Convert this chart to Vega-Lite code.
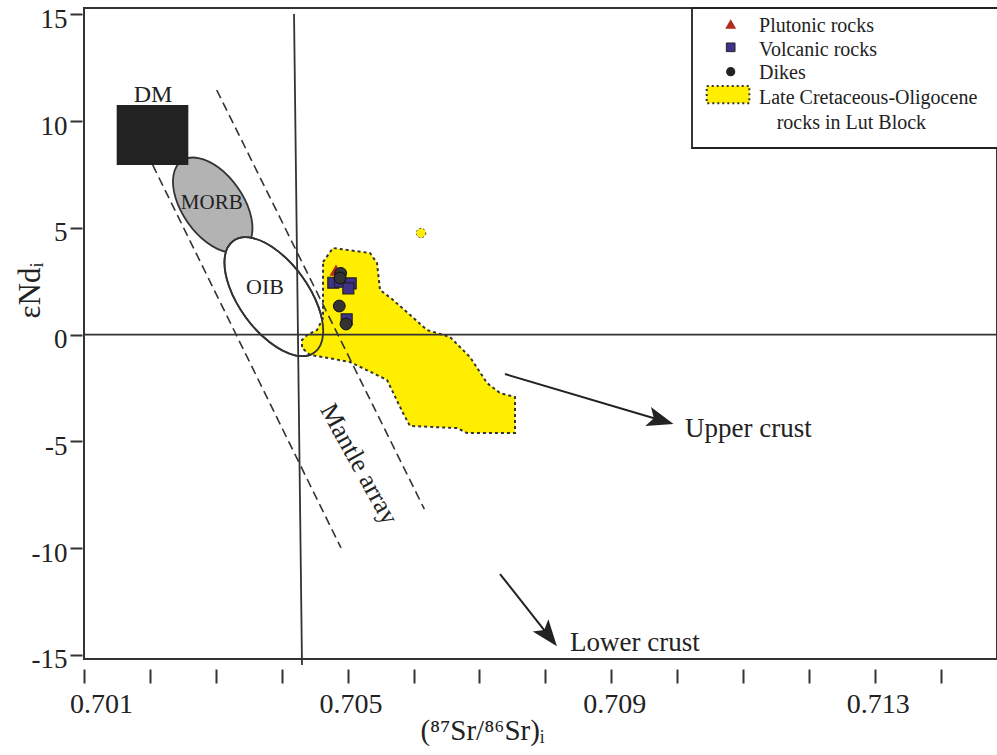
{
  "$schema": "https://vega.github.io/schema/vega-lite/v6.json",
  "width": 913,
  "height": 651,
  "autosize": {"type": "none"},
  "padding": {"left": 84, "top": 8, "right": 0, "bottom": 96},
  "background": "white",
  "config": {
    "view": {"stroke": "#333333", "strokeWidth": 2},
    "font": "Liberation Serif, Times New Roman, serif",
    "text": {"font": "Liberation Serif, Times New Roman, serif", "color": "#222222"}
  },
  "datasets": {
    "lut": [
      {"i": 1, "x": 0.704627, "y": 3.403}, {"i": 2, "x": 0.704778, "y": 4.059}, {"i": 3, "x": 0.70534, "y": 3.825},
      {"i": 4, "x": 0.705446, "y": 3.356}, {"i": 5, "x": 0.705492, "y": 2.092}, {"i": 6, "x": 0.705674, "y": 1.67},
      {"i": 7, "x": 0.706205, "y": 0.218}, {"i": 8, "x": 0.706554, "y": -0.11}, {"i": 9, "x": 0.706857, "y": -1.047},
      {"i": 10, "x": 0.707115, "y": -2.264}, {"i": 11, "x": 0.707313, "y": -2.733}, {"i": 12, "x": 0.70754, "y": -2.92},
      {"i": 13, "x": 0.70754, "y": -4.606}, {"i": 14, "x": 0.706812, "y": -4.606}, {"i": 15, "x": 0.70666, "y": -4.372},
      {"i": 16, "x": 0.705947, "y": -4.278}, {"i": 17, "x": 0.705841, "y": -3.67}, {"i": 18, "x": 0.705598, "y": -2.124},
      {"i": 19, "x": 0.705446, "y": -1.89}, {"i": 20, "x": 0.705036, "y": -1.281}, {"i": 21, "x": 0.704627, "y": -1.047},
      {"i": 22, "x": 0.704429, "y": -0.953}, {"i": 23, "x": 0.704308, "y": -0.625}, {"i": 24, "x": 0.704308, "y": -0.25},
      {"i": 25, "x": 0.704384, "y": -0.016}, {"i": 26, "x": 0.704536, "y": 0.218}, {"i": 27, "x": 0.704627, "y": 0.78}
    ],
    "blob": [{"x": 0.706114, "y": 4.761}],
    "morb": [
      {"i": 0, "x": 0.703423, "y": 4.003}, {"i": 1, "x": 0.703549, "y": 4.686}, {"i": 2, "x": 0.703517, "y": 5.75},
      {"i": 3, "x": 0.703332, "y": 6.893}, {"i": 4, "x": 0.703047, "y": 7.82}, {"i": 5, "x": 0.702736, "y": 8.274},
      {"i": 6, "x": 0.702483, "y": 8.143}, {"i": 7, "x": 0.702357, "y": 7.455}, {"i": 8, "x": 0.70239, "y": 6.396},
      {"i": 9, "x": 0.702574, "y": 5.253}, {"i": 10, "x": 0.70286, "y": 4.326}, {"i": 11, "x": 0.70317, "y": 3.867}
    ],
    "oib": [
      {"i": 0, "x": 0.704496, "y": -0.836}, {"i": 1, "x": 0.704627, "y": -0.007}, {"i": 2, "x": 0.704558, "y": 1.3},
      {"i": 3, "x": 0.704307, "y": 2.738}, {"i": 4, "x": 0.703942, "y": 3.914}, {"i": 5, "x": 0.703561, "y": 4.522},
      {"i": 6, "x": 0.703264, "y": 4.391}, {"i": 7, "x": 0.703134, "y": 3.562}, {"i": 8, "x": 0.703202, "y": 2.256},
      {"i": 9, "x": 0.703453, "y": 0.818}, {"i": 10, "x": 0.703818, "y": -0.358}, {"i": 11, "x": 0.7042, "y": -0.967}
    ],
    "mantle": [
      {"line": "lower", "i": 0, "x": 0.702042, "y": 7.95}, {"line": "lower", "i": 1, "x": 0.7049, "y": -9.99},
      {"line": "upper", "i": 0, "x": 0.703014, "y": 11.46}, {"line": "upper", "i": 1, "x": 0.706164, "y": -8.17}
    ],
    "bulk": [{"i": 0, "x": 0.704187, "y": 15.02}, {"i": 1, "x": 0.704308, "y": -15.47}],
    "zero": [{"x": 0.701, "x2": 0.714854, "y": 0}],
    "dm": [{"x": 0.701496, "x2": 0.702583, "y": 10.757, "y2": 7.946}],
    "plutonic": [{"x": 0.704824, "y": 3.028}],
    "volcanic": [
      {"x": 0.704783, "y": 2.433}, {"x": 0.704885, "y": 2.48}, {"x": 0.705047, "y": 2.405},
      {"x": 0.705011, "y": 2.171}, {"x": 0.704986, "y": 0.719}
    ],
    "dikes": [
      {"x": 0.704895, "y": 2.874}, {"x": 0.704885, "y": 2.654}, {"x": 0.704874, "y": 1.342}, {"x": 0.704976, "y": 0.499}
    ],
    "arrows": [
      {"arrow": "upper", "i": 0, "x": 0.707388, "y": -1.843}, {"arrow": "upper", "i": 1, "x": 0.709753, "y": -4.011},
      {"arrow": "lower", "i": 0, "x": 0.707313, "y": -11.211}, {"arrow": "lower", "i": 1, "x": 0.708052, "y": -14.105}
    ],
    "notes": [
      {"label": "DM", "x": 0.702047, "y": 11.225},
      {"label": "MORB", "x": 0.702938, "y": 6.152},
      {"label": "OIB", "x": 0.703747, "y": 2.246},
      {"label": "Mantle array", "x": 0.705173, "y": -6.058},
      {"label": "Upper crust", "x": 0.71012, "y": -4.808},
      {"label": "Lower crust", "x": 0.708375, "y": -14.803}
    ],
    "legendBox": [{"x": 0.710226, "x2": 0.7152, "y": 15.3, "y2": 8.743}],
    "legendPatch": [{"x": 0.710449, "x2": 0.711096, "y": 11.647, "y2": 10.836}],
    "legendSymbols": [
      {"item": "Plutonic rocks", "x": 0.710813, "y": 14.551},
      {"item": "Volcanic rocks", "x": 0.710813, "y": 13.459},
      {"item": "Dikes", "x": 0.710813, "y": 12.316}
    ],
    "legendText": [
      {"label": "Plutonic rocks", "x": 0.711243, "y": 14.199},
      {"label": "Volcanic rocks", "x": 0.711243, "y": 13.039},
      {"label": "Dikes", "x": 0.711243, "y": 11.99},
      {"label": "Late Cretaceous-Oligocene", "x": 0.711243, "y": 10.804},
      {"label": "rocks in Lut Block", "x": 0.711511, "y": 9.619}
    ]
  },
  "encoding": {
    "x": {
      "field": "x",
      "type": "quantitative",
      "scale": {"domain": [0.701, 0.714854], "nice": false, "zero": false},
      "axis": {
        "values": [0.701, 0.702, 0.703, 0.704, 0.705, 0.706, 0.707, 0.708, 0.709, 0.71, 0.711, 0.712, 0.713, 0.714],
        "format": ".3f",
        "labelExpr": "round(datum.value * 1000) % 4 == 1 ? datum.label : ''",
        "offset": 10,
        "tickSize": 14,
        "tickWidth": 2,
        "tickColor": "#333333",
        "domain": false,
        "grid": false,
        "labelFont": "Liberation Serif, Times New Roman, serif",
        "labelFontSize": 28,
        "labelColor": "#222222",
        "labelPadding": 7,
        "labelBaseline": "top",
        "labelOffset": {"condition": {"test": "datum.value < 0.7015", "value": 17}, "value": 3},
        "labelOverlap": false,
        "labelFlush": false,
        "labelBound": false,
        "title": "(⁸⁷Sr/⁸⁶Sr)ᵢ",
        "titleFont": "Liberation Serif, Times New Roman, serif",
        "titleFontSize": 29,
        "titleFontWeight": "normal",
        "titleColor": "#222222",
        "titleX": 398,
        "titleY": 70,
        "titleBaseline": "alphabetic",
        "titleAlign": "center"
      }
    },
    "y": {
      "field": "y",
      "type": "quantitative",
      "scale": {"domain": [-15.19, 15.3], "nice": false, "zero": false},
      "axis": {
        "values": [-15, -10, -5, 0, 5, 10, 15],
        "labelExpr": "toString(datum.value)",
        "offset": 2,
        "tickSize": 12,
        "tickWidth": 2,
        "tickColor": "#333333",
        "domain": false,
        "grid": false,
        "labelFont": "Liberation Serif, Times New Roman, serif",
        "labelFontSize": 27,
        "labelColor": "#222222",
        "labelPadding": 3,
        "labelOffset": 5,
        "labelBaseline": "middle",
        "labelOverlap": false,
        "labelFlush": false,
        "labelBound": false,
        "title": "εNdᵢ",
        "titleFont": "Liberation Serif, Times New Roman, serif",
        "titleFontSize": 31,
        "titleFontWeight": "normal",
        "titleColor": "#222222",
        "titleAngle": 270,
        "titleX": -52,
        "titleY": 282,
        "titleBaseline": "middle",
        "titleAlign": "center"
      }
    }
  },
  "layer": [
    {
      "data": {"name": "morb"},
      "mark": {"type": "line", "interpolate": "cardinal-closed", "fill": "#b3b3b3", "stroke": "#333333", "strokeWidth": 1.8},
      "encoding": {"order": {"field": "i", "type": "quantitative"}}
    },
    {
      "data": {"name": "oib"},
      "mark": {"type": "line", "interpolate": "cardinal-closed", "fill": "#ffffff", "stroke": "#333333", "strokeWidth": 1.8},
      "encoding": {"order": {"field": "i", "type": "quantitative"}}
    },
    {
      "data": {"name": "lut"},
      "mark": {"type": "line", "interpolate": "linear-closed", "fill": "#ffee00", "stroke": "#333333", "strokeWidth": 2, "strokeDash": [3, 3]},
      "encoding": {"order": {"field": "i", "type": "quantitative"}}
    },
    {
      "data": {"name": "blob"},
      "mark": {"type": "point", "shape": "circle", "filled": true, "size": 90, "fill": "#ffee00", "stroke": "#555555", "strokeWidth": 1, "strokeDash": [2, 2], "opacity": 1}
    },
    {
      "data": {"name": "oib"},
      "mark": {"type": "line", "interpolate": "cardinal-closed", "stroke": "#333333", "strokeWidth": 1.8},
      "encoding": {"order": {"field": "i", "type": "quantitative"}}
    },
    {
      "data": {"name": "dm"},
      "mark": {"type": "rect", "fill": "#222222"},
      "encoding": {"x2": {"field": "x2"}, "y2": {"field": "y2"}}
    },
    {
      "data": {"name": "mantle"},
      "mark": {"type": "line", "stroke": "#333333", "strokeWidth": 1.6, "strokeDash": [9, 5]},
      "encoding": {"detail": {"field": "line"}, "order": {"field": "i", "type": "quantitative"}}
    },
    {
      "data": {"name": "bulk"},
      "mark": {"type": "line", "stroke": "#333333", "strokeWidth": 1.8},
      "encoding": {"order": {"field": "i", "type": "quantitative"}}
    },
    {
      "data": {"name": "zero"},
      "mark": {"type": "rule", "stroke": "#333333", "strokeWidth": 1.8},
      "encoding": {"x2": {"field": "x2"}}
    },
    {
      "data": {"name": "plutonic"},
      "mark": {"type": "point", "shape": "triangle-up", "filled": true, "size": 170, "fill": "#b22a1f", "opacity": 1}
    },
    {
      "data": {"name": "volcanic"},
      "mark": {"type": "point", "shape": "square", "filled": true, "size": 120, "fill": "#3f318c", "stroke": "#222222", "strokeWidth": 1.2, "opacity": 1}
    },
    {
      "data": {"name": "dikes"},
      "mark": {"type": "point", "shape": "circle", "filled": true, "size": 140, "fill": "#333333", "stroke": "#111111", "strokeWidth": 1, "opacity": 1}
    },
    {
      "data": {"name": "arrows"},
      "mark": {"type": "line", "stroke": "#222222", "strokeWidth": 2},
      "encoding": {"detail": {"field": "arrow"}, "order": {"field": "i", "type": "quantitative"}}
    },
    {
      "data": {"name": "arrows"},
      "transform": [{"filter": "datum.arrow == 'upper' && datum.i == 1"}],
      "mark": {"type": "point", "shape": "M 1 0 L -1 -0.75 L -0.55 0 L -1 0.75 Z", "filled": true, "size": 700, "angle": 16.5, "fill": "#222222", "opacity": 1}
    },
    {
      "data": {"name": "arrows"},
      "transform": [{"filter": "datum.arrow == 'lower' && datum.i == 1"}],
      "mark": {"type": "point", "shape": "M 1 0 L -1 -0.75 L -0.55 0 L -1 0.75 Z", "filled": true, "size": 700, "angle": 51.8, "fill": "#222222", "opacity": 1}
    },
    {
      "data": {"name": "notes"},
      "transform": [{"filter": "datum.label == 'DM'"}],
      "mark": {"type": "text", "fontSize": 24, "align": "center", "baseline": "middle"},
      "encoding": {"text": {"field": "label"}}
    },
    {
      "data": {"name": "notes"},
      "transform": [{"filter": "datum.label == 'MORB'"}],
      "mark": {"type": "text", "fontSize": 21, "align": "center", "baseline": "middle"},
      "encoding": {"text": {"field": "label"}}
    },
    {
      "data": {"name": "notes"},
      "transform": [{"filter": "datum.label == 'OIB'"}],
      "mark": {"type": "text", "fontSize": 22, "align": "center", "baseline": "middle"},
      "encoding": {"text": {"field": "label"}}
    },
    {
      "data": {"name": "notes"},
      "transform": [{"filter": "datum.label == 'Mantle array'"}],
      "mark": {"type": "text", "fontSize": 26, "align": "center", "baseline": "middle", "angle": 61},
      "encoding": {"text": {"field": "label"}}
    },
    {
      "data": {"name": "notes"},
      "transform": [{"filter": "datum.label == 'Upper crust' || datum.label == 'Lower crust'"}],
      "mark": {"type": "text", "fontSize": 27, "align": "left", "baseline": "alphabetic"},
      "encoding": {"text": {"field": "label"}}
    },
    {
      "data": {"name": "legendBox"},
      "mark": {"type": "rect", "fill": "#ffffff", "stroke": "#222222", "strokeWidth": 1.8},
      "encoding": {"x2": {"field": "x2"}, "y2": {"field": "y2"}}
    },
    {
      "data": {"name": "legendPatch"},
      "mark": {"type": "rect", "fill": "#ffee00", "stroke": "#333333", "strokeWidth": 2, "strokeDash": [2, 3]},
      "encoding": {"x2": {"field": "x2"}, "y2": {"field": "y2"}}
    },
    {
      "data": {"name": "legendSymbols"},
      "transform": [{"filter": "datum.item == 'Plutonic rocks'"}],
      "mark": {"type": "point", "shape": "triangle-up", "filled": true, "size": 120, "fill": "#b22a1f", "opacity": 1}
    },
    {
      "data": {"name": "legendSymbols"},
      "transform": [{"filter": "datum.item == 'Volcanic rocks'"}],
      "mark": {"type": "point", "shape": "square", "filled": true, "size": 75, "fill": "#3f318c", "stroke": "#222222", "strokeWidth": 1, "opacity": 1}
    },
    {
      "data": {"name": "legendSymbols"},
      "transform": [{"filter": "datum.item == 'Dikes'"}],
      "mark": {"type": "point", "shape": "circle", "filled": true, "size": 85, "fill": "#222222", "opacity": 1}
    },
    {
      "data": {"name": "legendText"},
      "mark": {"type": "text", "fontSize": 20, "align": "left", "baseline": "alphabetic"},
      "encoding": {"text": {"field": "label"}}
    }
  ]
}
